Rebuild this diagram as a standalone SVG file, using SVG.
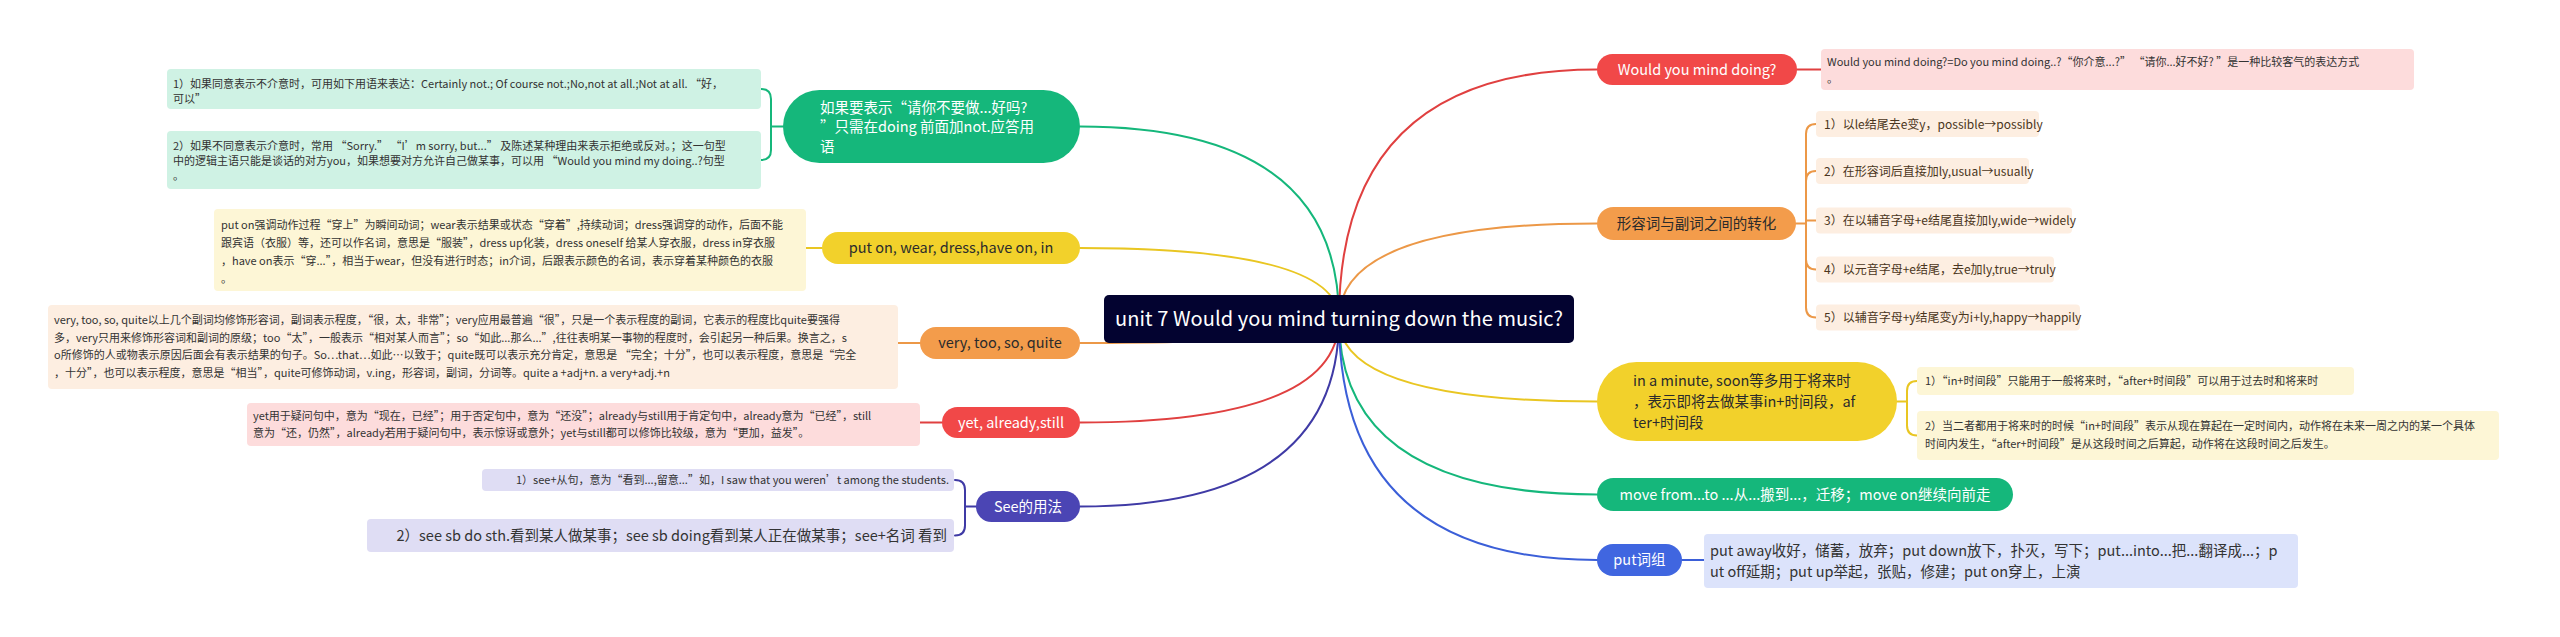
<svg xmlns="http://www.w3.org/2000/svg" width="2560" height="637" viewBox="0 0 2560 637">
<style>
text{font-family:"Noto Sans CJK SC","Noto Sans",sans-serif}
.c{fill:none;stroke-width:2;stroke-linecap:round}
.cg{stroke:#15b77b}.cy{stroke:#e9c622}.co{stroke:#ec9847}.cr{stroke:#e04040}.ci{stroke:#3f3aa5}.cb{stroke:#3b5fd8}
.ng{fill:#15b77b}.ny{fill:#f2d12b}.no{fill:#f39c4b}.nr{fill:#f14848}.ni{fill:#4b45b4}.nb{fill:#4066e0}
.bg{fill:#cff2e4}.by{fill:#fdf6d6}.bo{fill:#fdeee1}.br{fill:#fddcdc}.bi{fill:#dfddf4}.bb{fill:#dce3fb}
.lw{fill:#fff;font-size:14.5px}.ld{fill:#2b2b2b;font-size:14.5px}
.s{fill:#333;font-size:11px}.s12{fill:#4a3520;font-size:12px}.m{fill:#333;font-size:14.5px}
.mid{text-anchor:middle}
</style>
<rect width="2560" height="637" fill="#fff"/>
<g id="connectors">
<path class="c cg" d="M1339 319 Q1339 126.5 1080 126.5"/>
<path class="c cy" d="M1339 319 Q1339 248 1080 248"/>
<path class="c co" d="M1339 319 Q1339 343 1080 343"/>
<path class="c cr" d="M1339 319 Q1339 422.5 1080 422.5"/>
<path class="c ci" d="M1339 319 Q1339 506.5 1080 506.5"/>
<path class="c cr" d="M1339 319 Q1339 69.5 1597 69.5"/>
<path class="c co" d="M1339 319 Q1339 223.5 1597 223.5"/>
<path class="c cy" d="M1339 319 Q1339 401.5 1597 401.5"/>
<path class="c cg" d="M1339 319 Q1339 494.5 1597 494.5"/>
<path class="c cb" d="M1339 319 Q1339 560 1597 560"/>
<path class="c cg" d="M783 126.5 H771 M771 126.5 V99 Q771 89 761 89 M771 126.5 V150 Q771 160 761 160"/>
<path class="c cy" d="M822 248 H806"/>
<path class="c co" d="M920 343 H898"/>
<path class="c cr" d="M942 422.5 H920"/>
<path class="c ci" d="M976 506.5 H965 M965 506.5 V490 Q965 480 955 480 M965 506.5 V525.5 Q965 535.5 955 535.5"/>
<path class="c cr" d="M1797 69.5 H1821"/>
<path class="c co" d="M1796 223.5 H1806 M1806 223.5 V134 Q1806 124 1816 124 M1806 223.5 V181 Q1806 171 1816 171 M1806 223.5 V220.5 H1816 M1806 223.5 V259.5 Q1806 269.5 1816 269.5 M1806 223.5 V307.5 Q1806 317.5 1816 317.5"/>
<path class="c cy" d="M1897 401.5 H1907 M1907 401.5 V391 Q1907 381 1917 381 M1907 401.5 V425.5 Q1907 435.5 1917 435.5"/>
<path class="c cb" d="M1682 560 H1704"/>
</g>
<g id="center">
<rect x="1104" y="295" width="470" height="48" rx="5" fill="#030330"/>
<text x="1339" y="326" class="mid" fill="#fff" font-size="20" textLength="448">unit 7 Would you mind turning down the music?</text>
</g>
<g id="n-notdoing">
<rect x="783" y="90" width="297" height="73" rx="36.5" class="ng"/>
<text class="lw"><tspan x="820" y="112.5">如果要表示“请你不要做...好吗?</tspan><tspan x="820" y="132">”只需在doing 前面加not.应答用</tspan><tspan x="820" y="151.5">语</tspan></text>
</g>
<g id="n-notdoing-1">
<rect x="167" y="69" width="594" height="40" rx="4" class="bg"/>
<text class="s"><tspan x="173" y="88">1）如果同意表示不介意时，可用如下用语来表达：Certainly not.; Of course not.;No,not at all.;Not at all. “好，</tspan><tspan x="173" y="103">可以”</tspan></text>
</g>
<g id="n-notdoing-2">
<rect x="167" y="131" width="594" height="58" rx="4" class="bg"/>
<text class="s"><tspan x="173" y="150">2）如果不同意表示介意时，常用 “Sorry.” “I’m sorry, but...” 及陈述某种理由来表示拒绝或反对。；这一句型</tspan><tspan x="173" y="165">中的逻辑主语只能是谈话的对方you，如果想要对方允许自己做某事，可以用 “Would you mind my doing..?句型</tspan><tspan x="173" y="180">。</tspan></text>
</g>
<g id="n-puton">
<rect x="822" y="232" width="258" height="32" rx="16" class="ny"/>
<text x="951" y="253" class="ld mid">put on, wear, dress,have on, in</text>
</g>
<g id="n-puton-1">
<rect x="214" y="209" width="592" height="82" rx="4" class="by"/>
<text class="s"><tspan x="221" y="229">put on强调动作过程“穿上”为瞬间动词；wear表示结果或状态“穿着”,持续动词；dress强调穿的动作，后面不能</tspan><tspan x="221" y="247">跟宾语（衣服）等，还可以作名词，意思是“服装”，dress up化装，dress oneself 给某人穿衣服，dress in穿衣服</tspan><tspan x="221" y="265">，have on表示“穿...”，相当于wear，但没有进行时态；in介词，后跟表示颜色的名词，表示穿着某种颜色的衣服</tspan><tspan x="221" y="283">。</tspan></text>
</g>
<g id="n-very">
<rect x="920" y="327" width="160" height="32" rx="16" class="no"/>
<text x="1000" y="348" class="ld mid">very, too, so, quite</text>
</g>
<g id="n-very-1">
<rect x="48" y="305" width="850" height="84" rx="4" class="bo"/>
<text class="s"><tspan x="54" y="324">very, too, so, quite以上几个副词均修饰形容词，副词表示程度，“很，太，非常”；very应用最普遍“很”，只是一个表示程度的副词，它表示的程度比quite要强得</tspan><tspan x="54" y="341.5">多，very只用来修饰形容词和副词的原级；too“太”，一般表示“相对某人而言”；so“如此...那么...”,往往表明某一事物的程度时，会引起另一种后果。换言之，s</tspan><tspan x="54" y="359">o所修饰的人或物表示原因后面会有表示结果的句子。So…that…如此…以致于；quite既可以表示充分肯定，意思是 “完全；十分”，也可以表示程度，意思是“完全</tspan><tspan x="54" y="376.5">，十分”，也可以表示程度，意思是“相当”，quite可修饰动词，v.ing，形容词，副词，分词等。quite a +adj+n. a very+adj.+n</tspan></text>
</g>
<g id="n-yet">
<rect x="942" y="407" width="138" height="31" rx="15.5" class="nr"/>
<text x="1011" y="428" class="lw mid">yet, already,still</text>
</g>
<g id="n-yet-1">
<rect x="247" y="403" width="673" height="43" rx="4" class="br"/>
<text class="s"><tspan x="253" y="420">yet用于疑问句中，意为“现在，已经”；用于否定句中，意为“还没”；already与still用于肯定句中，already意为“已经”，still</tspan><tspan x="253" y="437">意为“还，仍然”，already若用于疑问句中，表示惊讶或意外；yet与still都可以修饰比较级，意为“更加，益发”。</tspan></text>
</g>
<g id="n-see">
<rect x="976" y="491" width="104" height="31" rx="15.5" class="ni"/>
<text x="1028" y="512" class="lw mid">See的用法</text>
</g>
<g id="n-see-1">
<rect x="482" y="469" width="472" height="22" rx="4" class="bi"/>
<text x="949" y="484" class="s" text-anchor="end">1）see+从句，意为“看到...,留意...”如，I saw that you weren’t among the students.</text>
</g>
<g id="n-see-2">
<rect x="367" y="519" width="587" height="33" rx="4" class="bi"/>
<text x="947" y="541" class="m" text-anchor="end">2）see sb do sth.看到某人做某事；see sb doing看到某人正在做某事；see+名词 看到</text>
</g>
<g id="n-would">
<rect x="1597" y="54" width="200" height="31" rx="15.5" class="nr"/>
<text x="1697" y="75" class="lw mid">Would you mind doing?</text>
</g>
<g id="n-would-1">
<rect x="1821" y="49" width="593" height="41" rx="4" class="br"/>
<text class="s"><tspan x="1827" y="66">Would you mind doing?=Do you mind doing..?“你介意...?”      “请你...好不好? ”是一种比较客气的表达方式</tspan><tspan x="1827" y="83">。</tspan></text>
</g>
<g id="n-adj">
<rect x="1597" y="207" width="199" height="33" rx="16.5" class="no"/>
<text x="1696.5" y="229" class="ld mid" fill="#3d2a10">形容词与副词之间的转化</text>
</g>
<g id="n-adj-1">
<rect x="1816" y="111" width="223" height="26" rx="4" class="bo"/>
<text x="1824" y="128.5" class="s12">1）以le结尾去e变y，possible→possibly</text>
</g>
<g id="n-adj-2">
<rect x="1816" y="158" width="213" height="26" rx="4" class="bo"/>
<text x="1824" y="175.5" class="s12">2）在形容词后直接加ly,usual→usually</text>
</g>
<g id="n-adj-3">
<rect x="1816" y="207.5" width="256" height="26" rx="4" class="bo"/>
<text x="1824" y="225" class="s12">3）在以辅音字母+e结尾直接加ly,wide→widely</text>
</g>
<g id="n-adj-4">
<rect x="1816" y="256.5" width="238" height="26" rx="4" class="bo"/>
<text x="1824" y="274" class="s12">4）以元音字母+e结尾，去e加ly,true→truly</text>
</g>
<g id="n-adj-5">
<rect x="1816" y="304.5" width="264" height="26" rx="4" class="bo"/>
<text x="1824" y="322" class="s12">5）以辅音字母+y结尾变y为i+ly,happy→happily</text>
</g>
<g id="n-minute">
<rect x="1597" y="362" width="300" height="79" rx="39.5" class="ny"/>
<text class="ld" font-size="14"><tspan x="1633" y="385.5">in a minute, soon等多用于将来时</tspan><tspan x="1633" y="406.5">，表示即将去做某事in+时间段，af</tspan><tspan x="1633" y="427.5">ter+时间段</tspan></text>
</g>
<g id="n-minute-1">
<rect x="1917" y="367" width="437" height="28" rx="4" class="by"/>
<text x="1925" y="385" class="s">1）“in+时间段”只能用于一般将来时，“after+时间段”可以用于过去时和将来时</text>
</g>
<g id="n-minute-2">
<rect x="1917" y="411" width="582" height="49" rx="4" class="by"/>
<text class="s"><tspan x="1925" y="430">2）当二者都用于将来时的时候“in+时间段”表示从现在算起在一定时间内，动作将在未来一周之内的某一个具体</tspan><tspan x="1925" y="448">时间内发生，“after+时间段”是从这段时间之后算起，动作将在这段时间之后发生。</tspan></text>
</g>
<g id="n-move">
<rect x="1597" y="478" width="416" height="33" rx="16.5" class="ng"/>
<text x="1805" y="499.5" class="lw mid">move from...to ...从...搬到...，迁移；move on继续向前走</text>
</g>
<g id="n-put">
<rect x="1597" y="544" width="85" height="32" rx="16" class="nb"/>
<text x="1639.5" y="565" class="lw mid">put词组</text>
</g>
<g id="n-put-1">
<rect x="1704" y="534" width="594" height="54" rx="4" class="bb"/>
<text class="m"><tspan x="1710" y="556"> put away收好，储蓄，放弃；put down放下，扑灭，写下；put...into...把...翻译成...；p</tspan><tspan x="1710" y="577">ut off延期；put up举起，张贴，修建；put on穿上，上演</tspan></text>
</g>
</svg>
